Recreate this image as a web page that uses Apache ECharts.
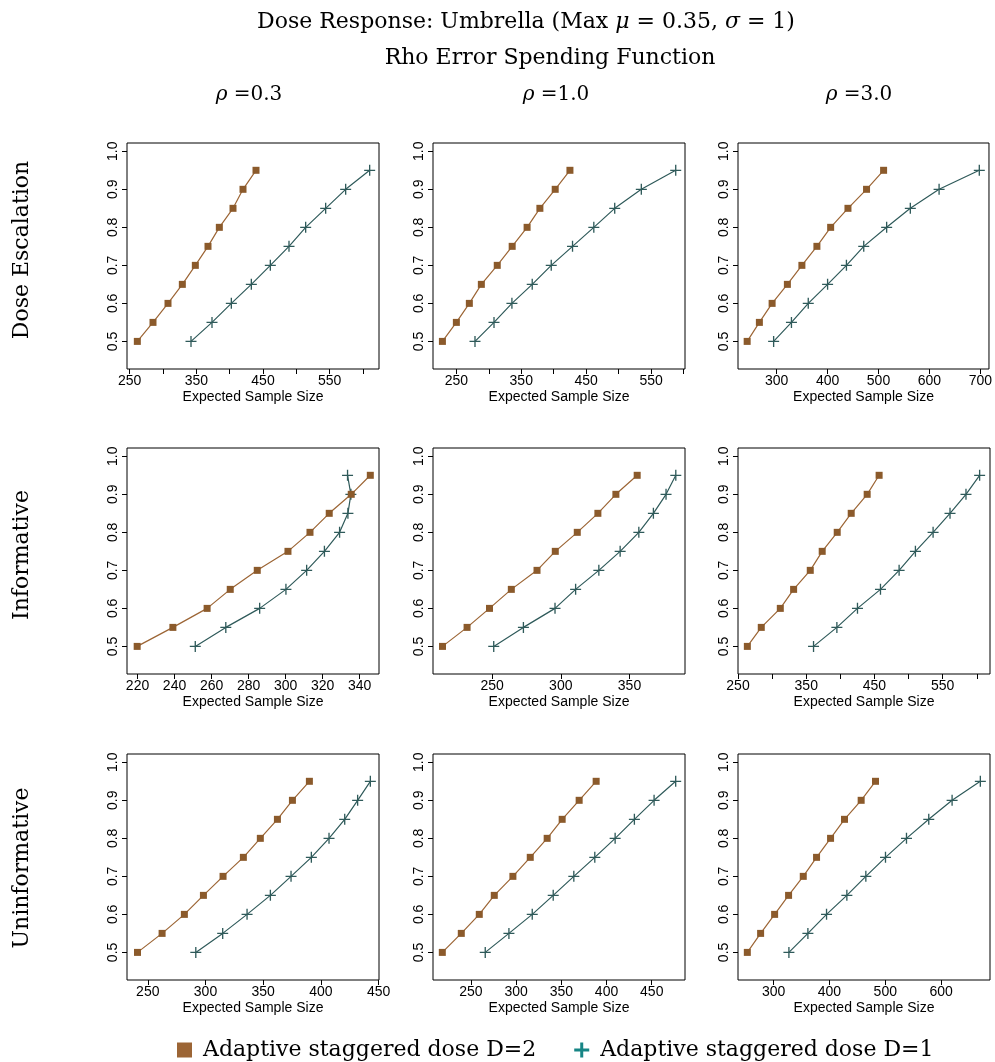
<!DOCTYPE html>
<html>
<head>
<meta charset="utf-8">
<script src="https://cdn.jsdelivr.net/npm/echarts@6/dist/echarts.min.js"></script>
<style>
  html, body { margin: 0; padding: 0; background: #fff; }
  #main { width: 995px; height: 1062px; }
</style>
</head>
<body>
<div id="main"></div>
<script>
// power levels (y) shared by every panel
const powerLevels = [0.5, 0.55, 0.6, 0.65, 0.7, 0.75, 0.8, 0.85, 0.9, 0.95];

// expected sample size (x), D=2 (squares) and D=1 (plus)
const escRho03D2 = [261.5, 285, 307.5, 329, 348.5, 367.5, 384.5, 405, 420, 439.5];
const escRho03D1 = [342, 373.5, 402.5, 432.5, 461, 489, 514, 544, 574, 610];
const escRho10D2 = [228.5, 250, 270, 288.5, 313, 336, 359, 378.7, 402.3, 425];
const escRho10D1 = [278.7, 308, 335.6, 366.9, 396.2, 429, 461.8, 494, 535, 588];
const escRho30D2 = [242, 266, 291, 321, 349.5, 379, 406, 440, 476.5, 510];
const escRho30D1 = [294, 329, 362, 400, 437, 471, 516, 562.5, 619, 698];

const infRho03D2 = [219.8, 239.1, 257.6, 270.1, 284.7, 301.3, 313.2, 323.6, 335.5, 345.8];
const infRho03D1 = [251.2, 267.7, 286, 300.2, 311.4, 321, 329.2, 333.7, 335.3, 333.5];
const infRho10D2 = [213.9, 231.8, 248.1, 264, 282.7, 296, 312, 327, 340.1, 355.6];
const infRho10D1 = [251.2, 272.8, 295.8, 310.8, 327.7, 343.2, 356.8, 367.4, 376.6, 383.7];
const infRho30D2 = [263.7, 284.1, 312, 331.5, 355.9, 373.4, 395.4, 415.9, 439.3, 456.8];
const infRho30D1 = [360.7, 394.9, 425.1, 458.8, 486.1, 510, 535.9, 560.7, 584.1, 604.1];

const uniRho03D2 = [241.1, 262.4, 281.7, 298.2, 315.2, 332.8, 347.5, 362.3, 375.3, 390];
const uniRho03D1 = [291.6, 314.9, 336, 356.2, 374.1, 391.7, 407, 420.6, 431.8, 442.8];
const uniRho10D2 = [218.3, 239.3, 259.2, 275.8, 296.4, 315.6, 334.3, 350.9, 369.7, 388.5];
const uniRho10D1 = [265.8, 292, 317.8, 341, 363.8, 387, 409.5, 430.8, 452.6, 476.5];
const uniRho30D2 = [252.9, 276.7, 301.8, 326.8, 353.1, 376.9, 402, 427, 456.8, 482.5];
const uniRho30D1 = [327.4, 361.4, 394.8, 431.2, 465.2, 500.4, 538, 577.9, 619.7, 670.3];

// tick positions and labelled ticks
const yTicks = [0.5, 0.6, 0.7, 0.8, 0.9, 1.0];
const ticks250by50 = [250, 300, 350, 400, 450, 500, 550, 600];
const labels250by100 = [250, 350, 450, 550];
const ticks300to700 = [300, 400, 500, 600, 700];
const ticks220to340 = [220, 240, 260, 280, 300, 320, 340];
const ticks250to350 = [250, 300, 350];
const ticks250to450 = [250, 300, 350, 400, 450];
const ticks300to600 = [300, 400, 500, 600];

const rowNames = ['Dose Escalation', 'Informative', 'Uninformative'];
const colNames = ['0.3', '1.0', '3.0'];
const seriesNames = ['Adaptive staggered dose D=2', 'Adaptive staggered dose D=1'];

const panels = [
  { d2: escRho03D2, d1: escRho03D1, min: 246, max: 624, ticks: ticks250by50, labels: labels250by100 },
  { d2: escRho10D2, d1: escRho10D1, min: 214, max: 602.3, ticks: ticks250by50, labels: labels250by100 },
  { d2: escRho30D2, d1: escRho30D1, min: 224, max: 717, ticks: ticks300to700, labels: ticks300to700 },
  { d2: infRho03D2, d1: infRho03D1, min: 214.3, max: 350.5, ticks: ticks220to340, labels: ticks220to340 },
  { d2: infRho10D2, d1: infRho10D1, min: 207, max: 390.4, ticks: ticks250to350, labels: ticks250to350 },
  { d2: infRho30D2, d1: infRho30D1, min: 250, max: 619.3, ticks: ticks250by50, labels: labels250by100 },
  { d2: uniRho03D2, d1: uniRho03D1, min: 232, max: 450.3, ticks: ticks250to450, labels: ticks250to450 },
  { d2: uniRho10D2, d1: uniRho10D1, min: 208, max: 486.8, ticks: ticks250to450, labels: ticks250to450 },
  { d2: uniRho30D2, d1: uniRho30D1, min: 236.2, max: 687.6, ticks: ticks300to600, labels: ticks300to600 }
];

const brown = '#8b5a2b';
const slate = '#2f5a5a';
const plusPath = 'path://M4.4,0h1.2v4.4h4.4v1.2h-4.4v4.4h-1.2v-4.4h-4.4v-1.2h4.4z';
const legendPlus = 'path://M4,0h2v4h4v2h-4v4h-2v-4h-4v-2h4z';
const serif = '"DejaVu Serif", serif';
const sans = '"Liberation Sans", Arial, sans-serif';

const gridLefts = [127, 433, 738];
const gridTops = [143, 448, 754];

const grids = [], xAxes = [], yAxes = [], series = [];
panels.forEach((p, i) => {
  const r = Math.floor(i / 3), c = i % 3;
  grids.push({
    left: gridLefts[c], top: gridTops[r], width: 252, height: 226,
    show: true, borderColor: '#000', borderWidth: 1, backgroundColor: 'transparent'
  });
  xAxes.push({
    type: 'value', gridIndex: i, min: p.min, max: p.max,
    name: 'Expected Sample Size', nameLocation: 'middle', nameGap: 21,
    nameTextStyle: { fontFamily: sans, fontSize: 14, color: '#000' },
    axisLine: { show: false },
    axisTick: { show: true, length: 5, customValues: p.ticks, lineStyle: { color: '#000' } },
    axisLabel: { customValues: p.labels, fontFamily: sans, fontSize: 14, color: '#000', margin: 5 },
    splitLine: { show: false }
  });
  yAxes.push({
    type: 'value', gridIndex: i, min: 0.4274, max: 1.0218,
    axisLine: { show: false },
    axisTick: { show: true, length: 5, customValues: yTicks, lineStyle: { color: '#000' } },
    axisLabel: {
      customValues: yTicks, rotate: 90, fontFamily: sans, fontSize: 14, color: '#000', margin: 7,
      formatter: (v) => v.toFixed(1)
    },
    splitLine: { show: false }
  });
  series.push({
    name: seriesNames[0], type: 'line', xAxisIndex: i, yAxisIndex: i,
    data: p.d2.map((x, k) => [x, powerLevels[k]]),
    symbol: 'rect', symbolSize: 7,
    itemStyle: { color: brown },
    lineStyle: { color: '#9c6535', width: 1.2 },
    z: 3
  });
  series.push({
    name: seriesNames[1], type: 'line', xAxisIndex: i, yAxisIndex: i,
    data: p.d1.map((x, k) => [x, powerLevels[k]]),
    symbol: plusPath, symbolSize: 11,
    itemStyle: { color: slate },
    lineStyle: { color: slate, width: 1.2 },
    z: 2
  });
});

const graphics = [
  {
    type: 'text', x: 526, y: 22,
    style: {
      text: 'Dose Response: Umbrella (Max {i|μ} = 0.35, {i|σ} = 1)',
      font: '22px ' + serif, fill: '#000', align: 'center', verticalAlign: 'middle',
      rich: { i: { fontStyle: 'italic', fontFamily: serif, fontSize: 22 } }
    }
  },
  {
    type: 'text', x: 550, y: 58,
    style: { text: 'Rho Error Spending Function', font: '22px ' + serif, fill: '#000', align: 'center', verticalAlign: 'middle' }
  }
];
const headerX = [249, 556, 859];
colNames.forEach((t, c) => {
  graphics.push({
    type: 'text', x: headerX[c], y: 95,
    style: {
      text: '{i|ρ} =' + t, font: '20px ' + serif, fill: '#000', align: 'center', verticalAlign: 'middle',
      rich: { i: { fontStyle: 'italic', fontFamily: serif, fontSize: 20 } }
    }
  });
});
const rowY = [250, 555, 868];
rowNames.forEach((t, r) => {
  graphics.push({
    type: 'text', x: 22, y: rowY[r], rotation: Math.PI / 2,
    style: { text: t, font: '22px ' + serif, fill: '#000', align: 'center', verticalAlign: 'middle' }
  });
});

const chart = echarts.init(document.getElementById('main'));
chart.setOption({
  animation: false,
  backgroundColor: '#fff',
  grid: grids,
  xAxis: xAxes,
  yAxis: yAxes,
  series: series,
  graphic: graphics,
  legend: {
    left: 172, top: 1034,
    itemWidth: 15, itemHeight: 15, itemGap: 38,
    textStyle: { fontFamily: serif, fontSize: 22, color: '#000', padding: [0, 0, 0, 6] },
    data: [
      { name: seriesNames[0], icon: 'rect', itemStyle: { color: '#9c6535' } },
      { name: seriesNames[1], icon: legendPlus, itemStyle: { color: '#178585' } }
    ]
  }
});
</script>
</body>
</html>
